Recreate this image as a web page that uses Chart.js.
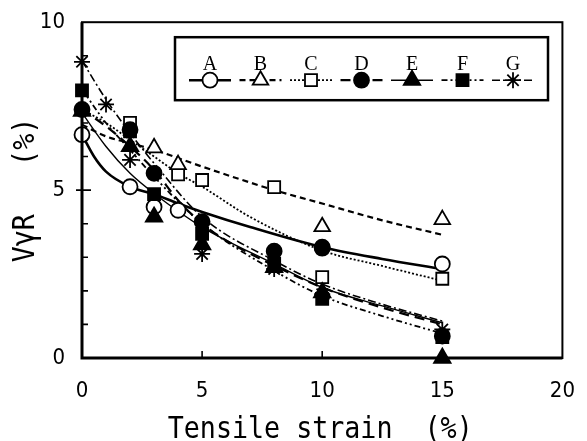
<!DOCTYPE html>
<html>
<head>
<meta charset="utf-8">
<script src="https://cdn.jsdelivr.net/npm/chart.js@4.4.1/dist/chart.umd.min.js"></script>
<style>
  html, body { margin: 0; padding: 0; background: #fff; }
</style>
</head>
<body>
<canvas id="myChart" width="587" height="441"></canvas>
<script>
/* ---- measured points (strain %, VγR %) ---- */
const seriesNames = ["A", "B", "C", "D", "E", "F", "G"];

const strainA = [0, 2, 3, 4, 10, 15];
const vrA = [6.65, 5.1, 4.5, 4.4, 3.3, 2.8];
const strainB = [3, 4, 10, 15];
const vrB = [6.26, 5.76, 3.91, 4.12];
const strainC = [2, 4, 5, 8, 10, 15];
const vrC = [7.0, 5.47, 5.3, 5.09, 2.41, 2.36];
const strainD = [0, 2, 3, 5, 8, 10, 15];
const vrD = [7.4, 6.8, 5.5, 4.06, 3.18, 3.27, 0.65];
const strainE = [0, 2, 3, 5, 8, 10, 15];
const vrE = [7.35, 6.3, 4.2, 3.38, 2.7, 1.95, 0];
const strainF = [0, 2, 3, 5, 8, 10, 15];
const vrF = [7.97, 6.75, 4.88, 3.7, 2.8, 1.76, 0.62];
const strainG = [0, 1, 2, 5, 8, 10, 15];
const vrG = [8.82, 7.55, 5.9, 3.1, 2.65, 1.9, 0.85];

/* ---- fitted curves ---- */
const fitXA = [0, 0.5, 1, 2, 3, 4, 5, 7, 10, 12.5, 15];
const fitYA = [6.65, 6.0, 5.55, 5.1, 4.88, 4.6, 4.35, 3.9, 3.3, 2.95, 2.65];
const fitXB = [0, 1, 2, 3, 5, 8, 10, 12.5, 15];
const fitYB = [6.95, 6.6, 6.4, 6.2, 5.7, 5.0, 4.6, 4.1, 3.67];
const fitXC = [0, 1, 2, 3, 4, 5, 7, 10, 12.5, 15];
const fitYC = [7.4, 7.0, 6.5, 6.0, 5.5, 5.1, 4.2, 3.2, 2.74, 2.3];
const fitXD = [0, 1, 2, 3, 4, 5, 6, 8, 10, 12.5, 15];
const fitYD = [7.4, 6.9, 6.3, 5.6, 4.7, 4.0, 3.5, 2.75, 2.1, 1.5, 1.0];
const fitXE = [0, 1, 2, 3, 5, 8, 10, 12.5, 15];
const fitYE = [7.3, 6.3, 5.5, 4.9, 3.9, 2.8, 2.1, 1.55, 1.05];
const fitXF = [0, 1, 2, 3, 5, 8, 10, 12.5, 15];
const fitYF = [8.0, 7.0, 6.2, 5.4, 4.0, 2.6, 1.85, 1.25, 0.73];
const fitXG = [0, 1, 2, 3, 5, 8, 10, 12.5, 15];
const fitYG = [8.85, 7.7, 6.7, 5.8, 4.2, 2.9, 2.2, 1.6, 1.1];

/* ---- axis ticks ---- */
const xTickLabels = [0, 5, 10, 15, 20];
const yTickLabels = [0, 5, 10];

const points = {
  A: [strainA, vrA], B: [strainB, vrB], C: [strainC, vrC], D: [strainD, vrD],
  E: [strainE, vrE], F: [strainF, vrF], G: [strainG, vrG],
};
const fits = {
  A: [fitXA, fitYA], B: [fitXB, fitYB], C: [fitXC, fitYC], D: [fitXD, fitYD],
  E: [fitXE, fitYE], F: [fitXF, fitYF], G: [fitXG, fitYG],
};

// marker / line look for each series
const STYLE = {
  A: { pointStyle: "circle", filled: false, radius: 7.5, dash: [], width: 2.6 },
  B: { pointStyle: "triangle", filled: false, radius: 9, dash: [6, 4], width: 2.2 },
  C: { pointStyle: "rect", filled: false, radius: 8.5, dash: [2, 2], width: 1.8 },
  D: { pointStyle: "circle", filled: true, radius: 7.5, dash: [10, 6], width: 2.2 },
  E: { pointStyle: "triangle", filled: true, radius: 9.5, dash: [], width: 1.4 },
  F: { pointStyle: "rect", filled: true, radius: 8.5, dash: [6, 3, 2, 3, 2, 3], width: 1.8 },
  G: { pointStyle: "star", filled: false, radius: 8, dash: [8, 3, 2, 3], width: 1.6 },
};

const toXY = ([xs, ys]) => xs.map((x, i) => ({ x, y: ys[i] }));

const datasets = [];
seriesNames.forEach((name) => {
  const st = STYLE[name];
  datasets.push({
    label: name,
    type: "scatter",
    data: toXY(points[name]),
    pointStyle: st.pointStyle,
    pointRadius: st.radius,
    pointBorderWidth: 1.8,
    pointBorderColor: "#000",
    pointBackgroundColor: st.filled ? "#000" : "#fff",
    showLine: false,
    clip: false,
    // filled markers sit on top of the open ones
    order: st.filled ? 0 : 0.5,
  });
});
seriesNames.forEach((name) => {
  const st = STYLE[name];
  datasets.push({
    label: name + " fit",
    type: "line",
    data: toXY(fits[name]),
    borderColor: "#000",
    borderWidth: st.width,
    borderDash: st.dash,
    pointRadius: 0,
    fill: false,
    cubicInterpolationMode: "monotone",
    order: 1,
  });
});

const TICK_FONT = { family: "'Liberation Sans Narrow', 'DejaVu Sans Condensed', sans-serif", size: 22 };
const TITLE_FONT = "31px 'DejaVu Sans Mono', monospace";

// frame around the plot and the inward tick marks
const frameTicks = {
  id: "frameTicks",
  afterDraw(chart) {
    const { ctx, chartArea: a, scales } = chart;
    ctx.save();
    ctx.strokeStyle = "#000";
    ctx.lineWidth = 2;
    ctx.strokeRect(a.left, a.top, a.right - a.left, a.bottom - a.top);
    ctx.lineWidth = 3;
    ctx.beginPath();
    ctx.moveTo(a.left, a.top); ctx.lineTo(a.left, a.bottom); ctx.lineTo(a.right, a.bottom);
    ctx.stroke();
    ctx.lineWidth = 1.6;
    ctx.beginPath();
    for (let v = 1; v < 10; v++) {
      const y = scales.y.getPixelForValue(v);
      ctx.moveTo(v === 5 ? a.left - 6 : a.left, y);
      ctx.lineTo(a.left + (v === 5 ? 9 : 6), y);
    }
    [5, 10, 15].forEach((v) => {
      const x = scales.x.getPixelForValue(v);
      ctx.moveTo(x, a.bottom);
      ctx.lineTo(x, a.bottom - 7);
    });
    ctx.stroke();
    ctx.restore();
  },
};

// axis titles in a monospaced, slightly condensed face
const axisTitles = {
  id: "axisTitles",
  afterDraw(chart) {
    const { ctx, chartArea: a } = chart;
    ctx.save();
    ctx.fillStyle = "#000";
    ctx.font = TITLE_FONT;
    ctx.textAlign = "center";
    ctx.textBaseline = "alphabetic";
    ctx.save();
    ctx.translate((a.left + a.right) / 2 - 2, 438);
    ctx.scale(0.86, 1);
    ctx.fillText("Tensile strain  (%)", 0, 0);
    ctx.restore();
    ctx.save();
    ctx.translate(34, 190);
    ctx.rotate(-Math.PI / 2);
    ctx.scale(0.86, 1);
    ctx.fillText("V\u03b3R   (%)", 0, 0);
    ctx.restore();
    ctx.restore();
  },
};

// boxed legend: letter above a line sample with its marker
const legendBox = {
  id: "legendBox",
  afterDraw(chart) {
    const { ctx, chartArea: a } = chart;
    const left = a.left + 93, top = a.top + 15;
    ctx.save();
    ctx.strokeStyle = "#000";
    ctx.fillStyle = "#fff";
    ctx.lineWidth = 2.5;
    ctx.fillRect(left, top, 373, 63);
    ctx.strokeRect(left, top, 373, 63);
    seriesNames.forEach((name, i) => {
      const st = STYLE[name];
      const cx = left + 35 + i * 50.5;
      ctx.fillStyle = "#000";
      ctx.font = "20px 'Liberation Serif', serif";
      ctx.textAlign = "center";
      ctx.textBaseline = "alphabetic";
      ctx.fillText(name, cx, top + 33);
      ctx.lineWidth = st.width;
      ctx.setLineDash(st.dash);
      ctx.beginPath();
      ctx.moveTo(cx - 21, top + 43);
      ctx.lineTo(cx + 21, top + 43);
      ctx.stroke();
      ctx.setLineDash([]);
      ctx.lineWidth = 1.8;
      ctx.fillStyle = st.filled ? "#000" : "#fff";
      Chart.helpers.drawPoint(ctx, {
        pointStyle: st.pointStyle, radius: st.radius, rotation: 0, borderWidth: 1.8,
      }, cx, top + 43);
    });
    ctx.restore();
  },
};

const chartConfig = {
  type: "scatter",
  data: { datasets },
  options: {
    responsive: false,
    animation: false,
    events: [],
    layout: { padding: { top: 18, right: 24, left: 0, bottom: 0 } },
    plugins: { legend: { display: false }, tooltip: { enabled: false } },
    scales: {
      x: {
        type: "linear",
        min: 0,
        max: 20,
        afterBuildTicks: (s) => { s.ticks = xTickLabels.map((v) => ({ value: v })); },
        afterFit: (s) => { s.height = 83; },
        grid: { display: false },
        border: { display: false },
        ticks: { color: "#000", font: TICK_FONT, padding: 12, maxRotation: 0 },
      },
      y: {
        type: "linear",
        min: 0,
        max: 10,
        afterBuildTicks: (s) => { s.ticks = yTickLabels.map((v) => ({ value: v })); },
        afterFit: (s) => { s.width = 82; },
        grid: { display: false },
        border: { display: false },
        ticks: { color: "#000", font: TICK_FONT, padding: 9 },
      },
    },
  },
  plugins: [frameTicks, axisTitles, legendBox],
};

const initChart = () => {
  const canvas = document.getElementById("myChart");
  if (!canvas) return;
  new Chart(canvas, chartConfig);
};

initChart();
</script>
</body>
</html>
